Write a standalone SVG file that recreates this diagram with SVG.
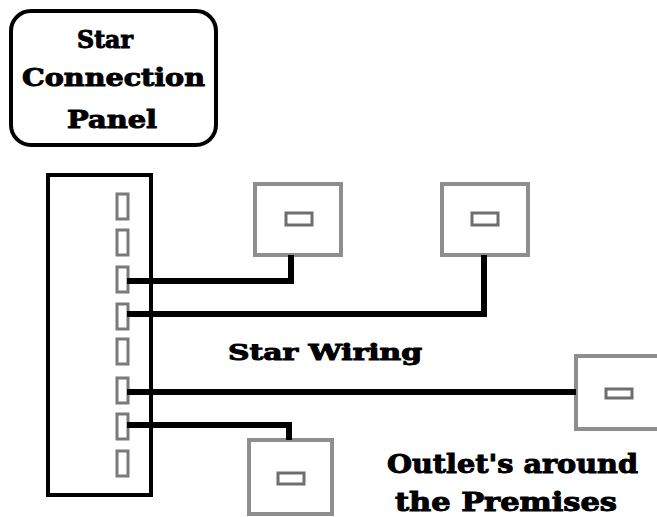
<svg xmlns="http://www.w3.org/2000/svg" width="657" height="517" viewBox="0 0 657 517">
<style>
.t{font-family:"DejaVu Serif","Liberation Serif",serif;font-weight:bold;fill:#000;stroke:#000;stroke-width:1}
.port{fill:#fff;stroke:#7a7a7a;stroke-width:3}
.outlet{fill:#fff;stroke:#8e8e8e;stroke-width:4}
.slot{fill:#fff;stroke:#6e6e6e;stroke-width:3}
.wire{fill:none;stroke:#000;stroke-width:6}
</style>
<rect width="657" height="517" fill="#fff"/>
<g id="label-panel">
<rect x="11" y="11" width="205" height="134" rx="20" fill="#fff" stroke="#000" stroke-width="4"/>
<text class="t" x="77" y="48" font-size="25" textLength="56" lengthAdjust="spacingAndGlyphs">Star</text>
<text class="t" x="22" y="86" font-size="25" textLength="183" lengthAdjust="spacingAndGlyphs">Connection</text>
<text class="t" x="67" y="128" font-size="25" textLength="90" lengthAdjust="spacingAndGlyphs">Panel</text>
</g>
<g id="panel">
<rect x="48" y="175" width="103" height="320" fill="#fff" stroke="#000" stroke-width="4"/>
<rect class="port" x="117" y="194" width="11" height="25"/>
<rect class="port" x="117" y="230" width="11" height="25"/>
<rect class="port" x="117" y="267" width="11" height="25"/>
<rect class="port" x="117" y="304" width="11" height="25"/>
<rect class="port" x="117" y="339" width="11" height="25"/>
<rect class="port" x="117" y="378" width="11" height="25"/>
<rect class="port" x="117" y="414" width="11" height="25"/>
<rect class="port" x="117" y="451" width="11" height="25"/>
</g>
<g id="outlet1">
<rect class="outlet" x="255" y="184" width="86" height="71"/>
<rect class="slot" x="286" y="213" width="26" height="12"/>
</g>
<g id="outlet2">
<rect class="outlet" x="442" y="184" width="86" height="71"/>
<rect class="slot" x="472" y="213" width="26" height="12"/>
</g>
<g id="outlet3">
<rect class="outlet" x="576" y="356" width="86" height="73"/>
<rect class="slot" x="606" y="389" width="26" height="9"/>
</g>
<g id="outlet4">
<rect class="outlet" x="249" y="440" width="83" height="74"/>
<rect class="slot" x="278" y="473" width="26" height="11"/>
</g>
<g id="connectors">
<polyline class="wire" points="127,281 291,281 291,255"/>
<polyline class="wire" points="127,314 484,314 484,255"/>
<polyline class="wire" points="127,392 576,392"/>
<polyline class="wire" points="127,425 289,425 289,440"/>
</g>
<g id="texts">
<text class="t" x="228" y="360" font-size="22" textLength="194" lengthAdjust="spacingAndGlyphs">Star Wiring</text>
<text class="t" x="387" y="473" font-size="26" textLength="251" lengthAdjust="spacingAndGlyphs">Outlet's around</text>
<text class="t" x="395" y="511" font-size="26" textLength="222" lengthAdjust="spacingAndGlyphs">the Premises</text>
</g>
</svg>
